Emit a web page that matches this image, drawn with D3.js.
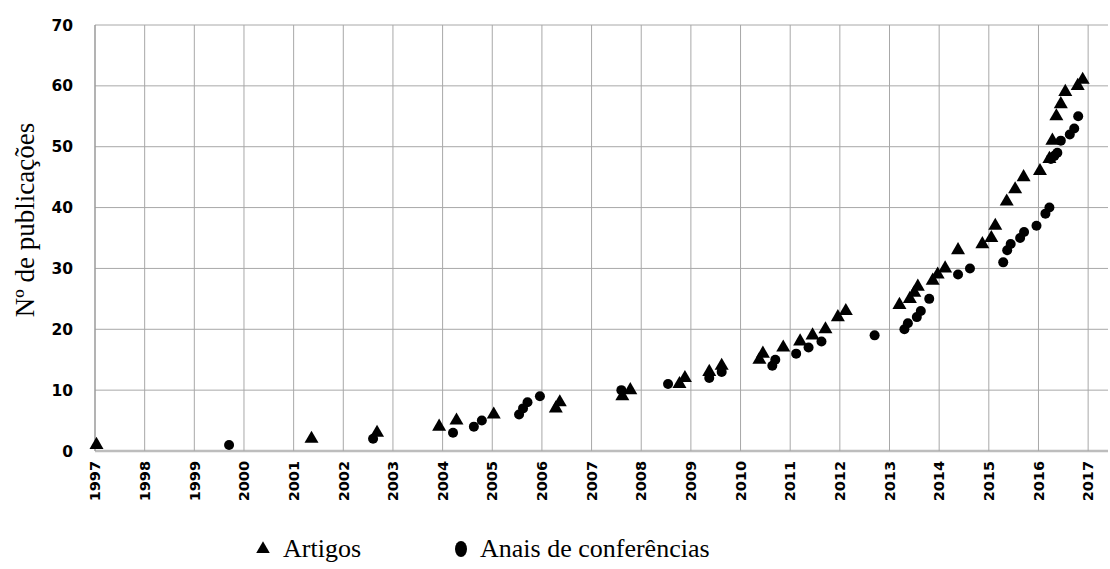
<!DOCTYPE html>
<html>
<head>
<meta charset="utf-8">
<script src="https://cdn.jsdelivr.net/npm/d3@7"></script>
<style>
  body { margin: 0; background: #fff; }
</style>
</head>
<body>
<div class="chart"></div>
<script>
var years = d3.range(1997, 2018);
var yTicks = [0, 10, 20, 30, 40, 50, 60, 70];

// Artigos (triangles): fractional year, cumulative count
var artigosX = [1997.03, 2001.36, 2002.68, 2003.93, 2004.28, 2005.03, 2006.28, 2006.36, 2007.62, 2007.78,
  2008.77, 2008.88, 2009.37, 2009.62, 2010.38, 2010.45, 2010.86, 2011.2, 2011.45, 2011.71,
  2011.96, 2012.12, 2013.2, 2013.41, 2013.5, 2013.57, 2013.87, 2013.97, 2014.12, 2014.38,
  2014.87, 2015.05, 2015.13, 2015.36, 2015.53, 2015.7, 2016.03, 2016.22, 2016.28, 2016.36,
  2016.45, 2016.54, 2016.79, 2016.89];
var artigosY = [1, 2, 3, 4, 5, 6, 7, 8, 9, 10,
  11, 12, 13, 14, 15, 16, 17, 18, 19, 20,
  22, 23, 24, 25, 26, 27, 28, 29, 30, 33,
  34, 35, 37, 41, 43, 45, 46, 48, 51, 55,
  57, 59, 60, 61];

// Anais de conferencias (circles)
var anaisX = [1999.7, 2002.6, 2004.21, 2004.63, 2004.79, 2005.54, 2005.62, 2005.71, 2005.96, 2007.6,
  2008.54, 2009.37, 2009.62, 2010.64, 2010.7, 2011.12, 2011.37, 2011.63, 2012.7, 2013.3,
  2013.37, 2013.55, 2013.63, 2013.8, 2014.38, 2014.62, 2015.29, 2015.37, 2015.44, 2015.63,
  2015.71, 2015.96, 2016.14, 2016.22, 2016.25, 2016.32, 2016.38, 2016.45, 2016.63, 2016.72,
  2016.8];
var anaisY = [1, 2, 3, 4, 5, 6, 7, 8, 9, 10,
  11, 12, 13, 14, 15, 16, 17, 18, 19, 20,
  21, 22, 23, 25, 29, 30, 31, 33, 34, 35,
  36, 37, 39, 40, 48, 48.5, 49, 51, 52, 53,
  55];

var legendLabels = ["Artigos", "Anais de conferências"];

var width = 1110;
var height = 569;
var serif = "Liberation Serif, DejaVu Serif, serif";
var sansBold = "DejaVu Sans, sans-serif";

var xScale = d3.scaleLinear().domain([1997, 2017.4]).range([95, 1108]);
var yScale = d3.scaleLinear().domain([0, 70]).range([451, 25]);

var svg = d3
  .select(".chart")
  .append("svg")
  .attr("width", width)
  .attr("height", height)
  .style("background", "#fff");

// grid
svg
  .selectAll("line.hgrid")
  .data(yTicks)
  .enter()
  .append("line")
  .attr("class", "hgrid")
  .attr("x1", xScale(1997))
  .attr("x2", xScale(2017.4))
  .attr("y1", function(d) { return yScale(d); })
  .attr("y2", function(d) { return yScale(d); })
  .attr("stroke", function(d) { return d === 0 ? "#bdbdbd" : "#a8a8a8"; })
  .attr("stroke-width", function(d) { return d === 0 ? 2.5 : 1; });

svg
  .selectAll("line.vgrid")
  .data(years)
  .enter()
  .append("line")
  .attr("class", "vgrid")
  .attr("x1", function(d) { return xScale(d); })
  .attr("x2", function(d) { return xScale(d); })
  .attr("y1", yScale(70))
  .attr("y2", yScale(0))
  .attr("stroke", function(d) { return d === 1997 ? "#9a9a9a" : "#a8a8a8"; })
  .attr("stroke-width", function(d) { return d === 1997 ? 1.5 : 1; });

// y tick labels
svg
  .selectAll("text.ylab")
  .data(yTicks)
  .enter()
  .append("text")
  .attr("class", "ylab")
  .attr("x", 73)
  .attr("y", function(d) { return yScale(d); })
  .attr("dy", "0.36em")
  .attr("text-anchor", "end")
  .attr("font-family", sansBold)
  .attr("font-weight", "bold")
  .attr("font-size", 15.5)
  .text(function(d) { return d; });

// x tick labels (rotated)
svg
  .selectAll("text.xlab")
  .data(years)
  .enter()
  .append("text")
  .attr("class", "xlab")
  .attr("transform", function(d) {
    return "translate(" + xScale(d) + ",461) rotate(-90)";
  })
  .attr("dy", "0.36em")
  .attr("text-anchor", "end")
  .attr("font-family", sansBold)
  .attr("font-weight", "bold")
  .attr("font-size", 14.5)
  .text(function(d) { return d; });

// y axis title
svg
  .append("text")
  .attr("transform", "translate(34,220) rotate(-90)")
  .attr("text-anchor", "middle")
  .attr("font-family", serif)
  .attr("font-size", 27)
  .text("Nº de publicações");

var tri = d3.symbol().type(d3.symbolTriangle).size(85);

svg
  .selectAll("circle.anais")
  .data(anaisX)
  .enter()
  .append("circle")
  .attr("class", "anais")
  .attr("cx", function(d) { return xScale(d); })
  .attr("cy", function(d, i) { return yScale(anaisY[i]); })
  .attr("r", 5)
  .attr("fill", "#000");

svg
  .selectAll("path.artigos")
  .data(artigosX)
  .enter()
  .append("path")
  .attr("class", "artigos")
  .attr("d", tri)
  .attr("transform", function(d, i) {
    return "translate(" + xScale(d) + "," + yScale(artigosY[i]) + ")";
  })
  .attr("fill", "#000");

// legend
svg
  .append("path")
  .attr("d", d3.symbol().type(d3.symbolTriangle).size(80))
  .attr("transform", "translate(263,549)")
  .attr("fill", "#000");

svg
  .append("ellipse")
  .attr("cx", 461)
  .attr("cy", 549)
  .attr("rx", 6)
  .attr("ry", 8)
  .attr("fill", "#000");

svg
  .selectAll("text.leg")
  .data(legendLabels)
  .enter()
  .append("text")
  .attr("class", "leg")
  .attr("x", function(d, i) { return i === 0 ? 283 : 480; })
  .attr("y", 557)
  .attr("font-family", serif)
  .attr("font-size", 26)
  .text(function(d) { return d; });
</script>
</body>
</html>
